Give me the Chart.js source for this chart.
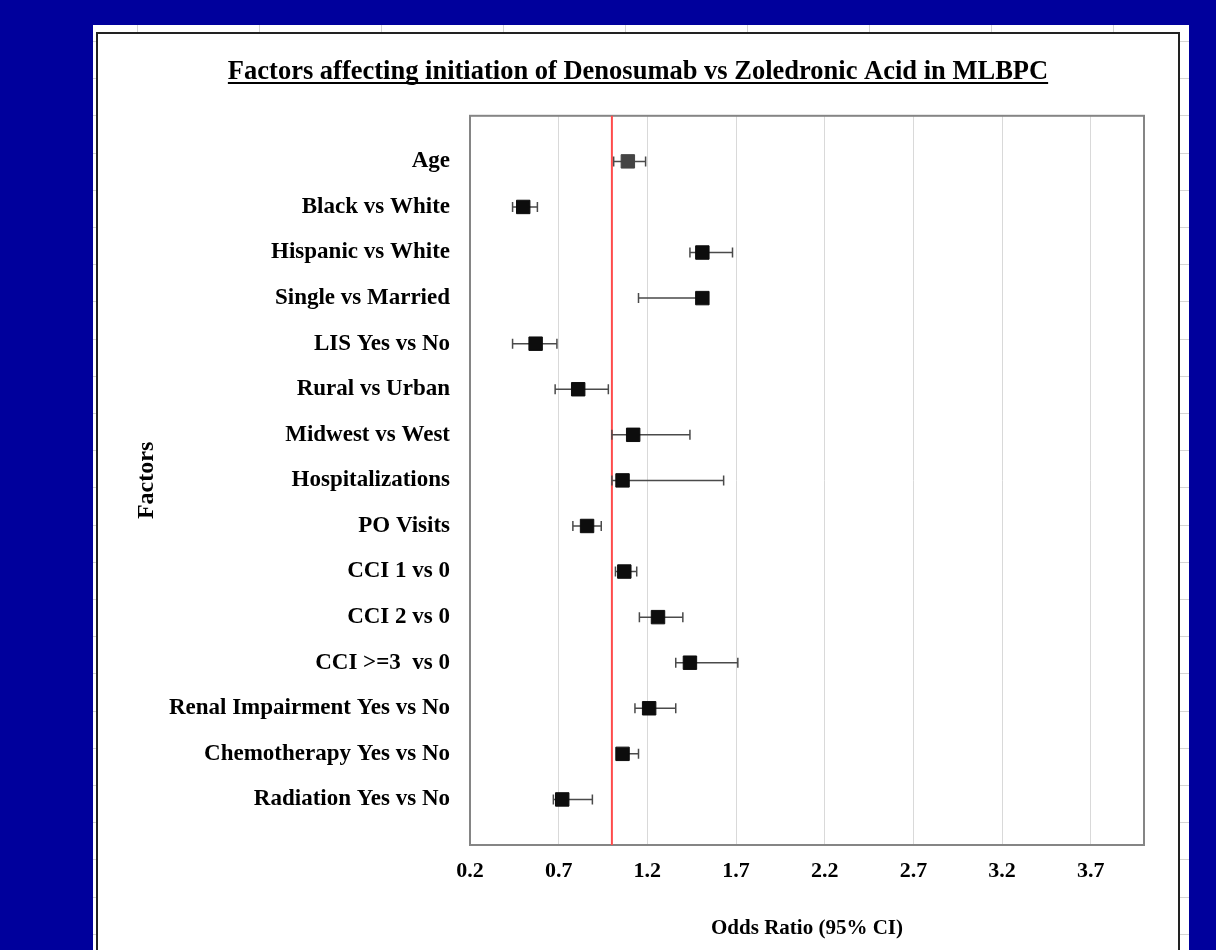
<!DOCTYPE html>
<html>
<head>
<meta charset="utf-8">
<script src="https://cdn.jsdelivr.net/npm/chart.js@4.4.0/dist/chart.umd.min.js"></script>
<style>
  body { margin: 0; background: #00009c; width: 1216px; height: 950px; overflow: hidden; position: relative; }
  /* spreadsheet behind the chart */
  #sheet {
    position: absolute; left: 93px; top: 25px; width: 1096px; height: 925px;
    background-color: #fff;
    background-image:
      repeating-linear-gradient(to right, transparent 0, transparent 44px, #d4d4d4 44px, #d4d4d4 45px, transparent 45px, transparent 122px),
      repeating-linear-gradient(to bottom, transparent 0, transparent 16px, #d4d4d4 16px, #d4d4d4 17px, transparent 17px, transparent 37.2px);
  }
  #frame {
    position: absolute; left: 96px; top: 32px; width: 1084px; height: 940px;
    box-sizing: border-box; border: 2px solid #222; background: #fff;
  }
  #chart { position: absolute; left: 0; top: 0; }
</style>
</head>
<body>
<div id="sheet"></div>
<div id="frame"><canvas id="chart" width="1080" height="916"></canvas></div>
<script>
const factors = ['Age', 'Black vs White', 'Hispanic vs White', 'Single vs Married', 'LIS Yes vs No',
  'Rural vs Urban', 'Midwest vs West', 'Hospitalizations', 'PO Visits', 'CCI 1 vs 0', 'CCI 2 vs 0',
  'CCI >=3  vs 0', 'Renal Impairment Yes vs No', 'Chemotherapy Yes vs No', 'Radiation Yes vs No'];
const oddsRatio = [1.09, 0.50, 1.51, 1.51, 0.57, 0.81, 1.12, 1.06, 0.86, 1.07, 1.26, 1.44, 1.21, 1.06, 0.72];
const ciLow  = [1.01, 0.44, 1.44, 1.15, 0.44, 0.68, 1.00, 1.00, 0.78, 1.02, 1.155, 1.36, 1.13, 1.03, 0.67];
const ciHigh = [1.19, 0.58, 1.68, 1.54, 0.69, 0.98, 1.44, 1.63, 0.94, 1.14, 1.40, 1.71, 1.36, 1.15, 0.89];
const xTicks = [0.2, 0.7, 1.2, 1.7, 2.2, 2.7, 3.2, 3.7];
const refLine = 1.0;

const serif = "'Liberation Serif', 'Times New Roman', serif";

const forestPlugin = {
  id: 'forest',
  beforeDatasetsDraw(chart) {
    const ctx = chart.ctx, xs = chart.scales.x, ys = chart.scales.y, a = chart.chartArea;
    ctx.save();
    // plot border
    ctx.strokeStyle = '#858585';
    ctx.lineWidth = 2;
    ctx.strokeRect(a.left, a.top, a.right - a.left, a.bottom - a.top);
    // reference line at OR = 1
    const rx = xs.getPixelForValue(refLine);
    ctx.strokeStyle = '#ff4b4b';
    ctx.beginPath(); ctx.moveTo(rx, a.top); ctx.lineTo(rx, a.bottom); ctx.stroke();
    // confidence intervals
    ctx.strokeStyle = '#4a4a4a';
    ctx.lineWidth = 1.5;
    factors.forEach((f, i) => {
      const y = ys.getPixelForValue(i + 1);
      const x0 = xs.getPixelForValue(ciLow[i]), x1 = xs.getPixelForValue(ciHigh[i]);
      ctx.beginPath();
      ctx.moveTo(x0, y); ctx.lineTo(x1, y);
      ctx.moveTo(x0, y - 5); ctx.lineTo(x0, y + 5);
      ctx.moveTo(x1, y - 5); ctx.lineTo(x1, y + 5);
      ctx.stroke();
    });
    ctx.restore();
  },
  afterDraw(chart) {
    // underline the title
    const tb = chart.titleBlock, o = chart.options.plugins.title, ctx = chart.ctx;
    ctx.save();
    ctx.font = 'bold ' + o.font.size + 'px ' + serif;
    const w = ctx.measureText(o.text).width;
    const cx = (tb.left + tb.right) / 2;
    const cy = tb.top + o.padding.top + o.font.size * 1.2 / 2;
    ctx.strokeStyle = '#000';
    ctx.lineWidth = 2;
    ctx.beginPath();
    ctx.moveTo(cx - w / 2, cy + o.font.size * 0.42);
    ctx.lineTo(cx + w / 2, cy + o.font.size * 0.42);
    ctx.stroke();
    ctx.restore();
  }
};

new Chart(document.getElementById('chart'), {
  type: 'scatter',
  data: {
    datasets: [{
      data: factors.map((f, i) => ({ x: oddsRatio[i], y: i + 1 })),
      pointStyle: 'rect',
      pointRadius: 9.5,
      pointHoverRadius: 9.5,
      pointBackgroundColor: factors.map((f, i) => i === 0 ? '#444' : '#0d0d0d'),
      pointBorderColor: factors.map((f, i) => i === 0 ? '#444' : '#0d0d0d'),
      pointBorderWidth: 1
    }]
  },
  options: {
    responsive: false,
    animation: false,
    layout: { padding: 0 },
    plugins: {
      legend: { display: false },
      tooltip: { enabled: false },
      title: {
        display: true,
        text: 'Factors affecting initiation of Denosumab vs Zoledronic Acid in MLBPC',
        color: '#000',
        font: { family: serif, size: 26.5, weight: 'bold' },
        padding: { top: 22, bottom: 28 }
      }
    },
    scales: {
      x: {
        min: 0.2,
        max: 4.0,
        afterBuildTicks(scale) { scale.ticks = xTicks.map(v => ({ value: v })); },
        afterFit(scale) { scale.height = 105; },
        grid: { color: '#d9d9d9', drawTicks: false },
        border: { display: false },
        ticks: {
          padding: 13,
          color: '#000',
          font: { family: serif, size: 22, weight: 'bold' },
          callback: v => v.toFixed(1)
        },
        title: {
          display: true,
          text: 'Odds Ratio (95% CI)',
          color: '#000',
          font: { family: serif, size: 21, weight: 'bold' },
          padding: { bottom: 9 }
        }
      },
      y: {
        min: 0,
        max: 16,
        reverse: true,
        afterBuildTicks(scale) { scale.ticks = factors.map((f, i) => ({ value: i + 1 })); },
        afterFit(scale) { scale.width = 372; },
        grid: { display: false, drawTicks: false },
        border: { display: false },
        ticks: {
          autoSkip: false,
          padding: 20,
          color: '#000',
          font: { family: serif, size: 23, weight: 'bold' },
          callback: v => factors[v - 1]
        },
        title: {
          display: true,
          text: 'Factors',
          color: '#000',
          font: { family: serif, size: 24, weight: 'bold' },
          padding: { top: 34 }
        }
      },
      yRight: {
        position: 'right',
        grid: { display: false },
        border: { display: false },
        ticks: { display: false },
        afterFit(scale) { scale.width = 34; }
      }
    }
  },
  plugins: [forestPlugin]
});
</script>
</body>
</html>
